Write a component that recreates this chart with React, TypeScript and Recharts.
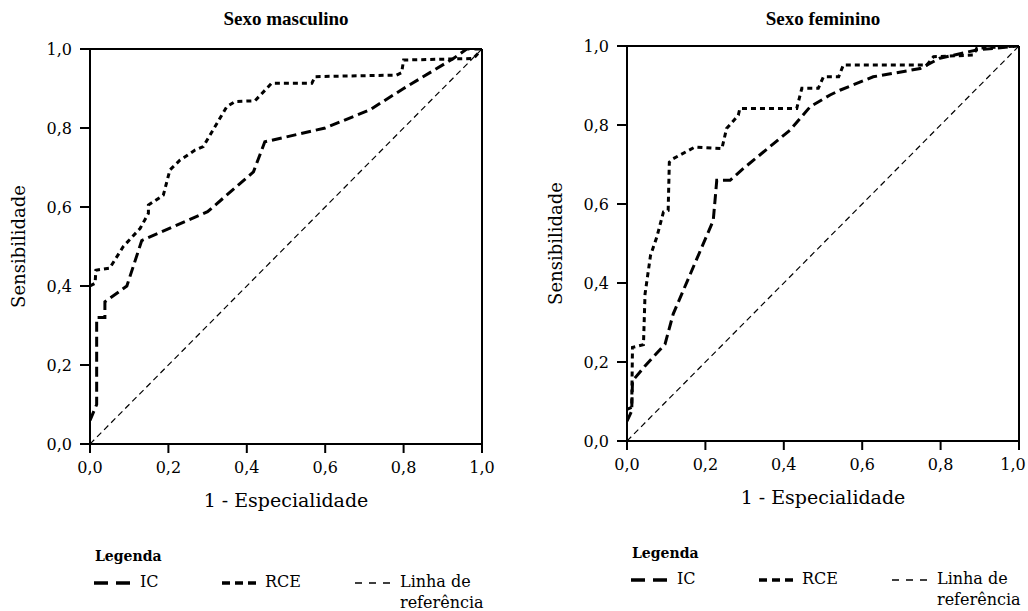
import React from "react";
import { LineChart, Line, XAxis, YAxis, ReferenceLine } from "recharts";

type Pt = { x: number; y: number };

const axisTicks = [0, 0.2, 0.4, 0.6, 0.8, 1];

const refLine: Pt[] = [
  { x: 0, y: 0 },
  { x: 1, y: 1 },
];

const mascIC: Pt[] = [
  { x: 0, y: 0.06 },
  { x: 0.017, y: 0.1 },
  { x: 0.017, y: 0.32 },
  { x: 0.038, y: 0.32 },
  { x: 0.038, y: 0.36 },
  { x: 0.094, y: 0.4 },
  { x: 0.132, y: 0.515 },
  { x: 0.3, y: 0.588 },
  { x: 0.417, y: 0.689 },
  { x: 0.446, y: 0.765 },
  { x: 0.6, y: 0.8 },
  { x: 0.714, y: 0.846 },
  { x: 0.8, y: 0.9 },
  { x: 0.927, y: 0.976 },
  { x: 0.961, y: 1.0 },
  { x: 1, y: 1 },
];

const mascRCE: Pt[] = [
  { x: 0, y: 0.4 },
  { x: 0.013, y: 0.407 },
  { x: 0.015, y: 0.44 },
  { x: 0.05, y: 0.445 },
  { x: 0.085, y: 0.5 },
  { x: 0.128, y: 0.546 },
  { x: 0.149, y: 0.584 },
  { x: 0.149, y: 0.605 },
  { x: 0.187, y: 0.63 },
  { x: 0.204, y: 0.694 },
  { x: 0.23, y: 0.719 },
  { x: 0.268, y: 0.744 },
  { x: 0.289, y: 0.753 },
  { x: 0.349, y: 0.854 },
  { x: 0.37, y: 0.867 },
  { x: 0.421, y: 0.869 },
  { x: 0.463, y: 0.913 },
  { x: 0.566, y: 0.913 },
  { x: 0.574, y: 0.93 },
  { x: 0.782, y: 0.934 },
  { x: 0.795, y: 0.94 },
  { x: 0.8, y: 0.972 },
  { x: 0.978, y: 0.976 },
  { x: 1, y: 1 },
];

const femIC: Pt[] = [
  { x: 0, y: 0.05 },
  { x: 0.012, y: 0.076 },
  { x: 0.014, y: 0.152 },
  { x: 0.046, y: 0.19 },
  { x: 0.097, y: 0.245 },
  { x: 0.118, y: 0.322 },
  { x: 0.22, y: 0.558 },
  { x: 0.229, y: 0.66 },
  { x: 0.263, y: 0.66 },
  { x: 0.297, y: 0.69 },
  { x: 0.416, y: 0.787 },
  { x: 0.467, y: 0.846 },
  { x: 0.518, y: 0.876 },
  { x: 0.543, y: 0.888 },
  { x: 0.628, y: 0.922 },
  { x: 0.748, y: 0.943 },
  { x: 0.798, y: 0.969 },
  { x: 0.892, y: 0.99 },
  { x: 1, y: 1 },
];

const femRCE: Pt[] = [
  { x: 0, y: 0.08 },
  { x: 0.012, y: 0.085 },
  { x: 0.014, y: 0.237 },
  { x: 0.042, y: 0.244 },
  { x: 0.046, y: 0.372 },
  { x: 0.06, y: 0.47 },
  { x: 0.076, y: 0.516 },
  { x: 0.093, y: 0.58 },
  { x: 0.105, y: 0.584 },
  { x: 0.108, y: 0.706 },
  { x: 0.118, y: 0.715 },
  { x: 0.173, y: 0.744 },
  { x: 0.242, y: 0.74 },
  { x: 0.254, y: 0.791 },
  { x: 0.284, y: 0.825 },
  { x: 0.288, y: 0.842 },
  { x: 0.433, y: 0.842 },
  { x: 0.446, y: 0.893 },
  { x: 0.488, y: 0.893 },
  { x: 0.501, y: 0.922 },
  { x: 0.54, y: 0.922 },
  { x: 0.552, y: 0.952 },
  { x: 0.765, y: 0.952 },
  { x: 0.782, y: 0.973 },
  { x: 0.884, y: 0.977 },
  { x: 0.892, y: 0.994 },
  { x: 1, y: 1 },
];

const FONT = "'DejaVu Serif', 'Liberation Serif', serif";
const TITLE_FONT = "'Liberation Serif', serif";
const IC_DASH = "10 5";
const RCE_DASH = "5 4";
const REF_DASH = "6 4";

const fmt = (v: number) => v.toFixed(1).replace(".", ",");

// x tick label; the last one can be nudged left so it stays on the page
function XTick(props: any) {
  const { x, y, payload, lastShift } = props;
  const shift = payload.value === 1 ? lastShift : 0;
  return (
    <text
      x={x + shift}
      y={y}
      dy="0.71em"
      textAnchor="middle"
      fill="#000"
      fontSize={16}
      fontFamily={FONT}
    >
      {fmt(payload.value)}
    </text>
  );
}

interface RocProps {
  left: number;
  dy: number;
  title: string;
  ic: Pt[];
  rce: Pt[];
  lastShift: number;
}

function RocPanel({ left, dy, title, ic, rce, lastShift }: RocProps) {
  // plot area: 392 wide, ~395 tall, starts 90px in
  return (
    <div style={{ position: "absolute", left, top: 0, width: 514, height: 611 }}>
      <div
        style={{
          position: "absolute",
          left: 90,
          width: 392,
          top: 8,
          textAlign: "center",
          fontFamily: TITLE_FONT,
          fontSize: 19,
          fontWeight: "bold",
        }}
      >
        {title}
      </div>
      <div
        style={{
          position: "absolute",
          left: -82,
          top: 236 + dy,
          width: 200,
          textAlign: "center",
          fontSize: 18,
          transform: "rotate(-90deg)",
        }}
      >
        Sensibilidade
      </div>
      <div
        style={{
          position: "absolute",
          left: 90,
          width: 392,
          top: 489 + dy,
          textAlign: "center",
          fontSize: 19,
        }}
      >
        1 - Especialidade
      </div>
      <LineChart
        width={514}
        height={520}
        margin={{ top: 49 + dy, right: 32, left: 30, bottom: 26 - dy }}
      >
        <XAxis
          type="number"
          dataKey="x"
          domain={[0, 1]}
          ticks={axisTicks}
          height={50}
          tickSize={9}
          tickMargin={9}
          stroke="#000"
          strokeWidth={2}
          tick={<XTick lastShift={lastShift} />}
          allowDataOverflow
        />
        <YAxis
          type="number"
          dataKey="y"
          domain={[0, 1]}
          ticks={axisTicks}
          tickFormatter={fmt}
          width={60}
          tickSize={10}
          tickMargin={8}
          stroke="#000"
          strokeWidth={2}
          tick={{ fill: "#000", fontSize: 16, fontFamily: FONT }}
          allowDataOverflow
        />
        <ReferenceLine y={1} stroke="#000" strokeWidth={2} />
        <ReferenceLine x={1} stroke="#000" strokeWidth={2} />
        <Line
          data={refLine}
          dataKey="y"
          type="linear"
          stroke="#000"
          strokeWidth={1.2}
          strokeDasharray={REF_DASH}
          dot={false}
          isAnimationActive={false}
        />
        <Line
          data={ic}
          dataKey="y"
          type="linear"
          stroke="#000"
          strokeWidth={3}
          strokeDasharray={IC_DASH}
          dot={false}
          isAnimationActive={false}
        />
        <Line
          data={rce}
          dataKey="y"
          type="linear"
          stroke="#000"
          strokeWidth={3}
          strokeDasharray={RCE_DASH}
          dot={false}
          isAnimationActive={false}
        />
      </LineChart>
      <LegendBlock dy={dy} />
    </div>
  );
}

function Sample({ dash, width, len }: { dash: string; width: number; len: number }) {
  return (
    <svg width={len} height={10} style={{ position: "absolute", left: 0, top: 7 }}>
      <line x1={0} y1={5} x2={len} y2={5} stroke="#000" strokeWidth={width} strokeDasharray={dash} />
    </svg>
  );
}

function LegendBlock({ dy }: { dy: number }) {
  const top = 571 + dy;
  const row = { position: "absolute" as const, top, fontSize: 16, lineHeight: "21px" };
  return (
    <>
      <div style={{ position: "absolute", left: 95, top: 548 + dy, fontSize: 14, fontWeight: "bold" }}>
        Legenda
      </div>
      <div style={{ ...row, left: 94 }}>
        <Sample dash="14 8" width={3.5} len={36} />
        <span style={{ marginLeft: 46 }}>IC</span>
      </div>
      <div style={{ ...row, left: 222 }}>
        <Sample dash="8 5" width={3.5} len={36} />
        <span style={{ marginLeft: 43 }}>RCE</span>
      </div>
      <div style={{ ...row, left: 355 }}>
        <Sample dash="7 7" width={1.3} len={38} />
        <div style={{ marginLeft: 45 }}>Linha de</div>
        <div style={{ marginLeft: 45 }}>referência</div>
      </div>
    </>
  );
}

export default function App() {
  return (
    <div
      style={{
        position: "fixed",
        left: 0,
        top: 0,
        width: 1028,
        height: 611,
        background: "#fff",
        fontFamily: FONT,
        color: "#000",
        overflow: "hidden",
      }}
    >
      <RocPanel left={0} dy={0} title="Sexo masculino" ic={mascIC} rce={mascRCE} lastShift={0} />
      <RocPanel left={537} dy={-3} title="Sexo feminino" ic={femIC} rce={femRCE} lastShift={-6} />
    </div>
  );
}
